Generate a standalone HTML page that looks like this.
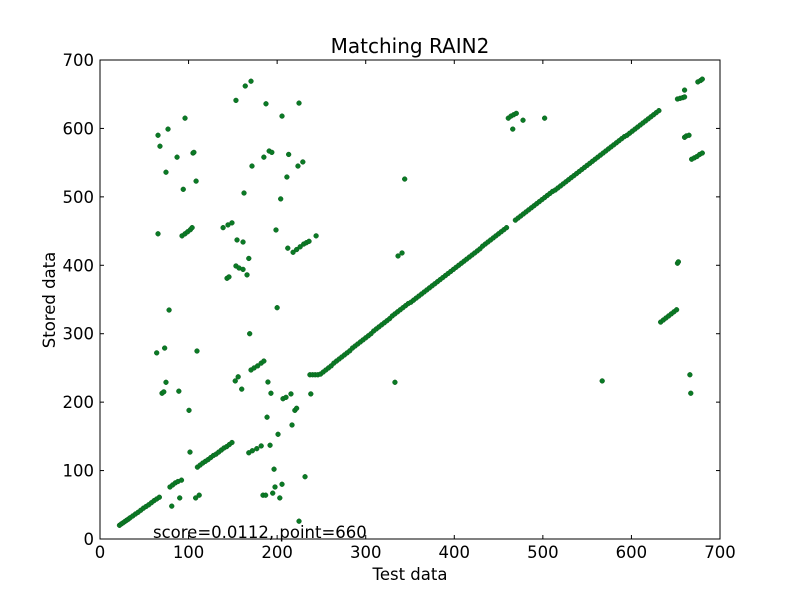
<!DOCTYPE html>
<html><head><meta charset="utf-8"><style>
html,body{margin:0;padding:0;background:#fff;}
svg{display:block;font-family:"DejaVu Sans","Liberation Sans",sans-serif;}
</style></head><body>
<svg id="chart" width="800" height="600" viewBox="0 0 800 600" xmlns="http://www.w3.org/2000/svg">
<rect width="800" height="600" fill="#fff"/>
<text x="410" y="53" text-anchor="middle" font-size="20">Matching RAIN2</text>
<text x="410" y="580" text-anchor="middle" font-size="16.5">Test data</text>
<text transform="translate(55,300) rotate(-90)" text-anchor="middle" font-size="16.5">Stored data</text>
<g id="ticks"></g>
<g id="points"></g>
<rect x="100" y="60" width="620" height="479" fill="none" stroke="#000" stroke-width="1"/>
<text x="153" y="538" font-size="16.5">score=0.0112, point=660</text>
</svg>
<script>
const xTicks=[0,100,200,300,400,500,600,700];
const yTicks=[0,100,200,300,400,500,600,700];
const lineX=[22,24,26,28,30,32,34,37,40,43,46,49,52,55,58,61,64,67,
79,82,85,88,92,
110,113,116,119,122,125,128,131,134,137,140,143,146,149,
237,240,243,246,
249,252,255,258,261,264,267,270,273,276,279,282,285,288,291,294,297,300,303,306,309,312,315,318,321,324,327,330,333,336,339,342,345,348,351,
354,357,360,363,366,369,372,375,378,381,384,387,390,393,396,399,402,405,408,411,414,417,420,423,426,429,432,435,438,441,444,447,450,453,456,459,
469,472,475,478,481,484,487,490,493,496,499,502,505,508,511,514,517,520,523,526,529,532,535,538,541,544,547,550,553,556,559,562,565,568,571,574,577,580,583,586,589,592,595,598,601,604,607,610,613,616,619,622,625,628,631];
const lineY=[20,22,23.6,25.5,27.3,29,31,33.7,36.5,39,42,45,47.5,50,53,56,58.5,61,
76,79,82,84,86,
105,108,111,113.5,116,119,122,124,127,130,133,135,138,141,
240,240,240,240,
241,244,247,250,253,257,260,263,266,269,272,275,279,282,285,288,291,294,297,300,304,307,310,313,316,319,322,326,329,332,335,338,341,344,346,
349,352,355,358,361,364,367,370,373,376,379,382,385,388,391,394,397,400,403,406,409,412,415,418,421,424,428,431,434,437,440,443,446,449,452,455,
466,469,472,475,478,481,484,487,490,493,496,499,502,505,508,510,513,516,519,522,525,528,531,534,537,540,543,546,549,552,555,558,561,564,567,570,573,576,579,582,585,588,590,593,596,599,602,605,608,611,614,617,620,623,626];
const outX=[652,655,658,660,660,675,678,680,660,662,665,668,671,674,677,680,652,653,633,636,639,642,645,648,651,567,666,667,
461,464,467,470,466,477.6,502,
65.5,76.8,96,67.7,87,105,106,74.5,94,108.5,65.5,92.6,96,99,102,104,139,144.5,149,154.7,161.5,168,153.5,157,161.5,143.4,145.6,166,
153.5,164,170.5,187.4,224.7,205.5,185,191,194,213,171.6,223.5,229,211,162.6,204,198.7,212,218,222,226,230,233,236,244,344,336.5,341,
78,64,73,109.5,74.5,70,72,89,100.5,101.6,81,90,108,112,169,200,152.7,156,160,170.5,174,178,182,185,189.6,193,206.6,210,215.6,220,222,188.6,216.8,201,168,172,177,182,192,196.5,197.6,195,205.5,203,184,187,231.5,224.7,333,238];
const outY=[643,644,645,646,656,668,670,672,587,589,590,555,557,559,562,564,403,405,317,320,323,326,329,332,335,231,240,213,
615,618,620,622,599,612,615,
590,599,615,574,558,564,565,536,511,523,446,443,446,449,452,455,455,459,462,437,434,410,399,396,394,381,383,386,
641,662,669,636,637,618,558,567,565,562,545,545,551,529,505.6,497,451.6,425,419,423,427,431,433,435,443,526,413.6,418,
334.6,272,279,274.7,229,213,215,216,188,127,48,60,60,64,300,338,231,237,219,247,250,253,257,260,229.4,213,205,207,212,188,191,178,166.6,153,126,129,132,136,137,102,76,67,80,60,64,64,91,26,229,212];
const NS='http://www.w3.org/2000/svg';
const sx=v=>100+v*620/700;
const sy=v=>539-v*479/700;
const tk=document.getElementById('ticks');
xTicks.forEach(t=>{
  const x=sx(t);
  const l1=document.createElementNS(NS,'line');
  l1.setAttribute('x1',x);l1.setAttribute('x2',x);l1.setAttribute('y1',539);l1.setAttribute('y2',535);l1.setAttribute('stroke','#000');
  
  
  tk.appendChild(l1);
  const l2=document.createElementNS(NS,'line');
  l2.setAttribute('x1',x);l2.setAttribute('x2',x);l2.setAttribute('y1',60);l2.setAttribute('y2',64);l2.setAttribute('stroke','#000');
  
  
  tk.appendChild(l2);
  const tx=document.createElementNS(NS,'text');
  tx.setAttribute('x',x);tx.setAttribute('y',558);tx.setAttribute('text-anchor','middle');tx.setAttribute('font-size','16.5');
  tx.textContent=t;
  
  
  tk.appendChild(tx);
});
yTicks.forEach(t=>{
  const y=sy(t);
  const l1=document.createElementNS(NS,'line');
  l1.setAttribute('x1',100);l1.setAttribute('x2',104);l1.setAttribute('y1',y);l1.setAttribute('y2',y);l1.setAttribute('stroke','#000');
  
  
  tk.appendChild(l1);
  const l2=document.createElementNS(NS,'line');
  l2.setAttribute('x1',716);l2.setAttribute('x2',720);l2.setAttribute('y1',y);l2.setAttribute('y2',y);l2.setAttribute('stroke','#000');
  
  
  tk.appendChild(l2);
  const tx=document.createElementNS(NS,'text');
  tx.setAttribute('x',94);tx.setAttribute('y',y+6);tx.setAttribute('text-anchor','end');tx.setAttribute('font-size','16.5');
  tx.textContent=t;
  
  
  tk.appendChild(tx);
});
const pg=document.getElementById('points');
function dot(x,y){
  const c=document.createElementNS(NS,'circle');
  c.setAttribute('cx',sx(x));c.setAttribute('cy',sy(y));c.setAttribute('r',2.4);
  c.setAttribute('fill','#0a7a25');c.setAttribute('stroke','#0b5d1c');c.setAttribute('stroke-width','0.5');
  
  
  pg.appendChild(c);
}
lineX.forEach((x,i)=>dot(x,lineY[i]));
outX.forEach((x,i)=>dot(x,outY[i]));
</script>
</body></html>
